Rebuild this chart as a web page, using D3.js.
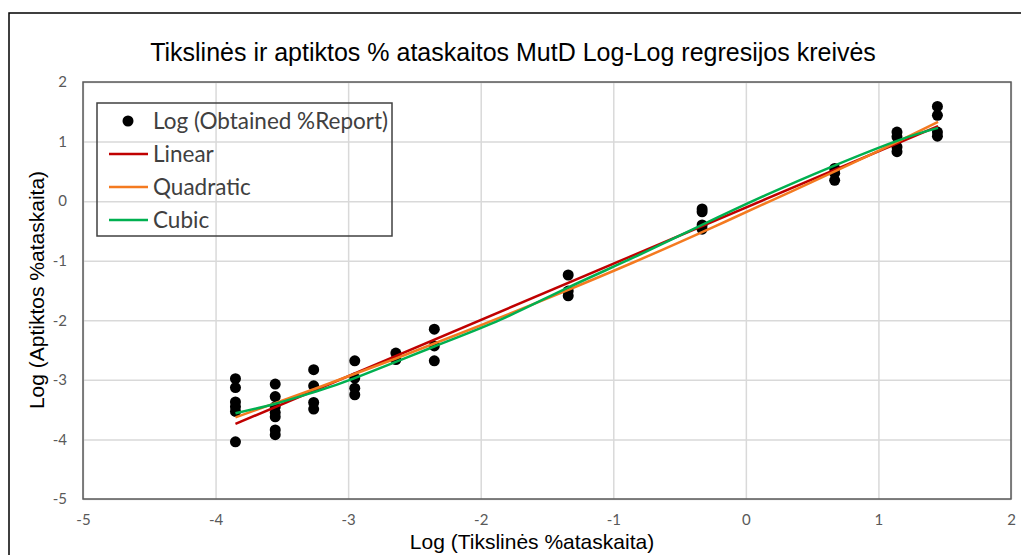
<!DOCTYPE html>
<html>
<head>
<meta charset="utf-8">
<title>Tikslinės ir aptiktos % ataskaitos MutD Log-Log regresijos kreivės</title>
<style>
body { margin: 0; background: #fff; }
.tick text { font-family: Lato, "Open Sans", sans-serif; fill: #595959; }
.grid line { stroke: #d9d9d9; stroke-width: 1.5; }
.grid .domain { display: none; }
</style>
</head>
<body>
<svg id="chart" width="1021" height="555"></svg>
<script src="https://d3js.org/d3.v7.min.js"></script>
<script>

// scatter: observed points, x = log target %, y = log obtained %
var pointX = [-3.85, -3.85, -3.85, -3.85, -3.85, -3.85,
              -3.55, -3.55, -3.55, -3.55, -3.55, -3.55, -3.55,
              -3.26, -3.26, -3.26, -3.26,
              -2.95, -2.95, -2.95, -2.95,
              -2.64, -2.64,
              -2.35, -2.35, -2.35,
              -1.34, -1.34, -1.34,
              -0.33, -0.33, -0.33, -0.33,
              0.67, 0.67, 0.67,
              1.14, 1.14, 1.14, 1.14,
              1.445, 1.445, 1.445, 1.445];
var pointY = [-2.98, -3.13, -3.37, -3.45, -3.53, -4.04,
              -3.07, -3.28, -3.45, -3.55, -3.62, -3.84, -3.92,
              -2.83, -3.10, -3.38, -3.49,
              -2.68, -2.97, -3.14, -3.25,
              -2.55, -2.66,
              -2.15, -2.43, -2.68,
              -1.24, -1.51, -1.59,
              -0.13, -0.18, -0.40, -0.47,
              0.55, 0.47, 0.35,
              1.16, 1.08, 0.91, 0.83,
              1.59, 1.44, 1.16, 1.09];

// fitted curves
var linearX = [-3.85, 1.45];
var linearY = [-3.74, 1.26];

var quadX = [-3.85, -3.25, -2.65, -2.05, -1.45, -0.85, -0.25, 0.35, 0.95, 1.45];
var quadY = [-3.63, -3.15, -2.65, -2.13, -1.59, -1.03, -0.44, 0.17, 0.79, 1.33];

var cubicX = [-3.85, -3.55, -3.25, -2.95, -2.35, -1.85, -1.35, -0.85, -0.35, 0.15, 0.65, 1.15, 1.45];
var cubicY = [-3.56, -3.40, -3.20, -2.97, -2.44, -1.99, -1.46, -0.95, -0.42, 0.10, 0.58, 1.02, 1.23];

var xTicks = [-5, -4, -3, -2, -1, 0, 1, 2];
var yTicks = [-5, -4, -3, -2, -1, 0, 1, 2];

var legendLabels = ["Log (Obtained %Report)", "Linear", "Quadratic", "Cubic"];
var colors = {linear: "#c00000", quad: "#f47a20", cubic: "#00b050"};

var svg = d3.select("#chart"),
    margin = {top: 82, right: 10, bottom: 56, left: 83},
    width = +svg.attr("width") - margin.left - margin.right,
    height = +svg.attr("height") - margin.top - margin.bottom;

// plain hyphen minus like the original
var tickFmt = function(d) { return String(d); };

// outer chart border
svg.append("rect")
    .attr("x", 9).attr("y", 13)
    .attr("width", 1030).attr("height", 560)
    .attr("fill", "none")
    .attr("stroke", "#000")
    .attr("stroke-width", 1.5);

var g = svg.append("g").attr("transform", "translate(" + margin.left + "," + margin.top + ")");

var x = d3.scaleLinear().domain([-5, 2]).range([0, width]);
var y = d3.scaleLinear().domain([-5, 2]).range([height, 0]);

// grid
g.append("g").attr("class", "grid")
    .attr("transform", "translate(0," + height + ")")
    .call(d3.axisBottom(x).tickValues(xTicks).tickSize(-height).tickFormat(""));
g.append("g").attr("class", "grid")
    .call(d3.axisLeft(y).tickValues(yTicks).tickSize(-width).tickFormat(""));

// frame
g.append("rect")
    .attr("width", width).attr("height", height)
    .attr("fill", "none")
    .attr("stroke", "#595959")
    .attr("stroke-width", 1.5);

// tick labels
var xAxis = g.append("g")
    .attr("transform", "translate(0," + height + ")")
    .call(d3.axisBottom(x).tickValues(xTicks).tickFormat(tickFmt).tickSize(0).tickPadding(15));
xAxis.select(".domain").remove();
xAxis.selectAll("text").attr("font-size", 15);

var yAxis = g.append("g")
    .call(d3.axisLeft(y).tickValues(yTicks).tickFormat(tickFmt).tickSize(0).tickPadding(16));
yAxis.select(".domain").remove();
yAxis.selectAll("text").attr("font-size", 15);

// regression curves
function drawCurve(xs, ys, color, curve) {
  var pts = xs.map(function(d, i) { return [d, ys[i]]; });
  g.append("path")
      .datum(pts)
      .attr("fill", "none")
      .attr("stroke", color)
      .attr("stroke-width", 2.5)
      .attr("d", d3.line()
        .x(function(d) { return x(d[0]); })
        .y(function(d) { return y(d[1]); })
        .curve(curve));
}

// points
g.append("g")
  .selectAll("circle")
    .data(pointX)
    .enter()
    .append("circle")
    .attr("cx", function(d) { return x(d); })
    .attr("cy", function(d, i) { return y(pointY[i]); })
    .attr("r", 5.5)
    .attr("fill", "#000");

drawCurve(linearX, linearY, colors.linear, d3.curveLinear);
drawCurve(quadX, quadY, colors.quad, d3.curveNatural);
drawCurve(cubicX, cubicY, colors.cubic, d3.curveNatural);

// legend
var legend = svg.append("g").attr("transform", "translate(97,103)");
legend.append("rect")
    .attr("width", 295).attr("height", 133)
    .attr("fill", "none")
    .attr("stroke", "#404040")
    .attr("stroke-width", 1.5);

var legendColors = [null, colors.linear, colors.quad, colors.cubic];
legendLabels.forEach(function(label, i) {
  var cy = 18 + i * 33;
  if (i === 0) {
    legend.append("circle").attr("cx", 31).attr("cy", cy).attr("r", 5.5).attr("fill", "#000");
  } else {
    legend.append("line")
        .attr("x1", 12).attr("x2", 51)
        .attr("y1", cy).attr("y2", cy)
        .attr("stroke", legendColors[i])
        .attr("stroke-width", 2.5);
  }
  legend.append("text")
      .attr("x", 56).attr("y", cy)
      .attr("dy", "0.35em")
      .attr("font-family", "Lato, 'Open Sans', sans-serif")
      .attr("font-size", 22.5)
      .attr("fill", "#404040")
      .text(label);
});

// titles
svg.append("text")
    .attr("x", 513).attr("y", 61)
    .attr("text-anchor", "middle")
    .attr("font-family", "Arial, 'Liberation Sans', sans-serif")
    .attr("font-size", 25)
    .attr("fill", "#000")
    .text("Tikslinės ir aptiktos % ataskaitos MutD Log-Log regresijos kreivės");

svg.append("text")
    .attr("x", 532).attr("y", 549)
    .attr("text-anchor", "middle")
    .attr("font-family", "Arial, 'Liberation Sans', sans-serif")
    .attr("font-size", 21)
    .attr("fill", "#000")
    .text("Log (Tikslinės %ataskaita)");

svg.append("text")
    .attr("transform", "translate(44,290) rotate(-90)")
    .attr("text-anchor", "middle")
    .attr("font-family", "Arial, 'Liberation Sans', sans-serif")
    .attr("font-size", 21)
    .attr("fill", "#000")
    .text("Log (Aptiktos %ataskaita)");

</script>
</body>
</html>
